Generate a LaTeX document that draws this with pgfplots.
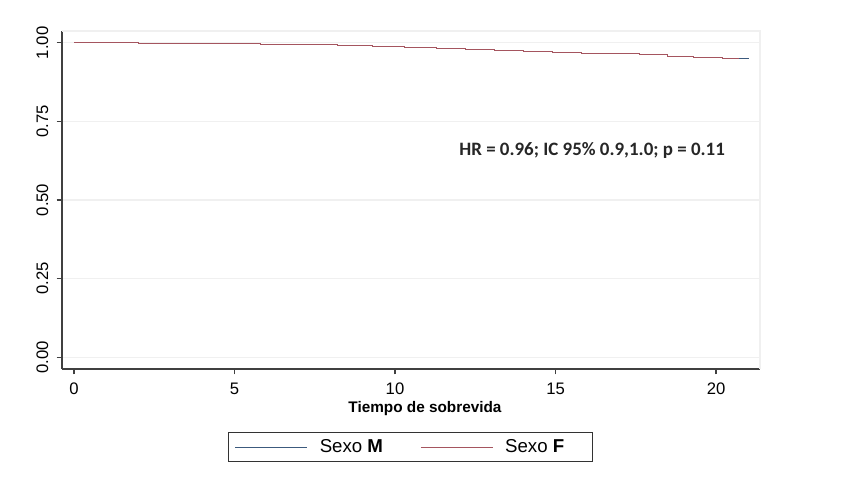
\documentclass[border=0pt]{standalone}
\usepackage{pgfplots}
\pgfplotsset{compat=1.18}
\usepackage{fontspec}
\setmainfont{Liberation Sans}
\newfontfamily\carlito{Carlito}
\definecolor{stnavy}{RGB}{60,90,125}
\definecolor{stmaroon}{RGB}{165,85,95}
\begin{document}
\begin{tikzpicture}
\begin{axis}[
  scale only axis,
  width=523.5pt, height=253.5pt,
  xmin=-0.374, xmax=21.37,
  ymin=-0.038, ymax=1.038,
  axis lines=left,
  axis line style={-, black!75, line width=0.9pt},
  xtick={0,5,10,15,20},
  ytick={0,0.25,0.5,0.75,1},
  yticklabels={0.00,0.25,0.50,0.75,1.00},
  tick style={black!75, line width=0.8pt},
  tick align=outside,
  major tick length=4pt,
  ymajorgrids,
  grid style={black!6, line width=0.8pt},
  /pgf/number format/assume math mode=true,
  ticklabel style={font=\fontsize{12.5}{14}\selectfont},
  yticklabel style={rotate=90, anchor=south, inner sep=1pt, yshift=5pt},
  xticklabel style={yshift=-3pt},
  xlabel={\bfseries Tiempo de sobrevida},
  xlabel style={at={(axis description cs:0.52,-0.118)}, anchor=center, font=\fontsize{11.5}{13}\selectfont},
  legend style={at={(axis description cs:0.499,-0.231)}, anchor=center, draw=black!80, line width=0.8pt,
    font=\fontsize{14}{16}\selectfont, inner xsep=5pt, inner ysep=3pt,
    /tikz/every odd column/.append style={column sep=7pt},
    /tikz/every even column/.append style={column sep=26pt}},
  legend columns=2,
  legend image code/.code={\draw[#1, line width=0.6pt] (0pt,0pt) -- (54pt,0pt);},
  clip=false,
]
\draw[black!6, line width=0.8pt] (rel axis cs:0,1) -- (rel axis cs:1,1) -- (rel axis cs:1,0);
\addplot[const plot, stnavy, line width=0.7pt] coordinates {
(0,1.000) (0.3,1.000) (2.0,0.999) (4.2,0.998) (5.8,0.996) (7.0,0.994) (8.2,0.992) (9.3,0.989)
(10.3,0.986) (11.3,0.983) (12.2,0.980) (13.1,0.977) (14.0,0.974) (14.9,0.971) (15.8,0.968)
(16.7,0.965) (17.6,0.962) (18.5,0.958) (19.3,0.955) (20.2,0.952) (21.0,0.951)
};
\addlegendentry{Sexo \textbf{M}}
\addplot[const plot, stmaroon, line width=0.7pt] coordinates {
(0,1.000) (0.3,1.000) (2.0,0.999) (4.2,0.998) (5.8,0.996) (7.0,0.994) (8.2,0.992) (9.3,0.989)
(10.3,0.986) (11.3,0.983) (12.2,0.980) (13.1,0.977) (14.0,0.974) (14.9,0.971) (15.8,0.968)
(16.7,0.965) (17.6,0.962) (18.5,0.958) (19.3,0.955) (20.2,0.952) (20.7,0.951)
};
\addlegendentry{Sexo \textbf{F}\hspace*{14pt}}
\node[font=\carlito\bfseries\fontsize{14.2}{16}\selectfont, text=black!85] at (axis cs:16.14,0.657) {HR = 0.96; IC 95\% 0.9,1.0; p = 0.11};
\coordinate (ll) at (rel axis cs:0,0);
\coordinate (ur) at (rel axis cs:1,1);
\end{axis}
\path ([shift={(-46.5pt,-84pt)}]ll) rectangle ([shift={(78pt,23.25pt)}]ur);
\end{tikzpicture}
\end{document}
